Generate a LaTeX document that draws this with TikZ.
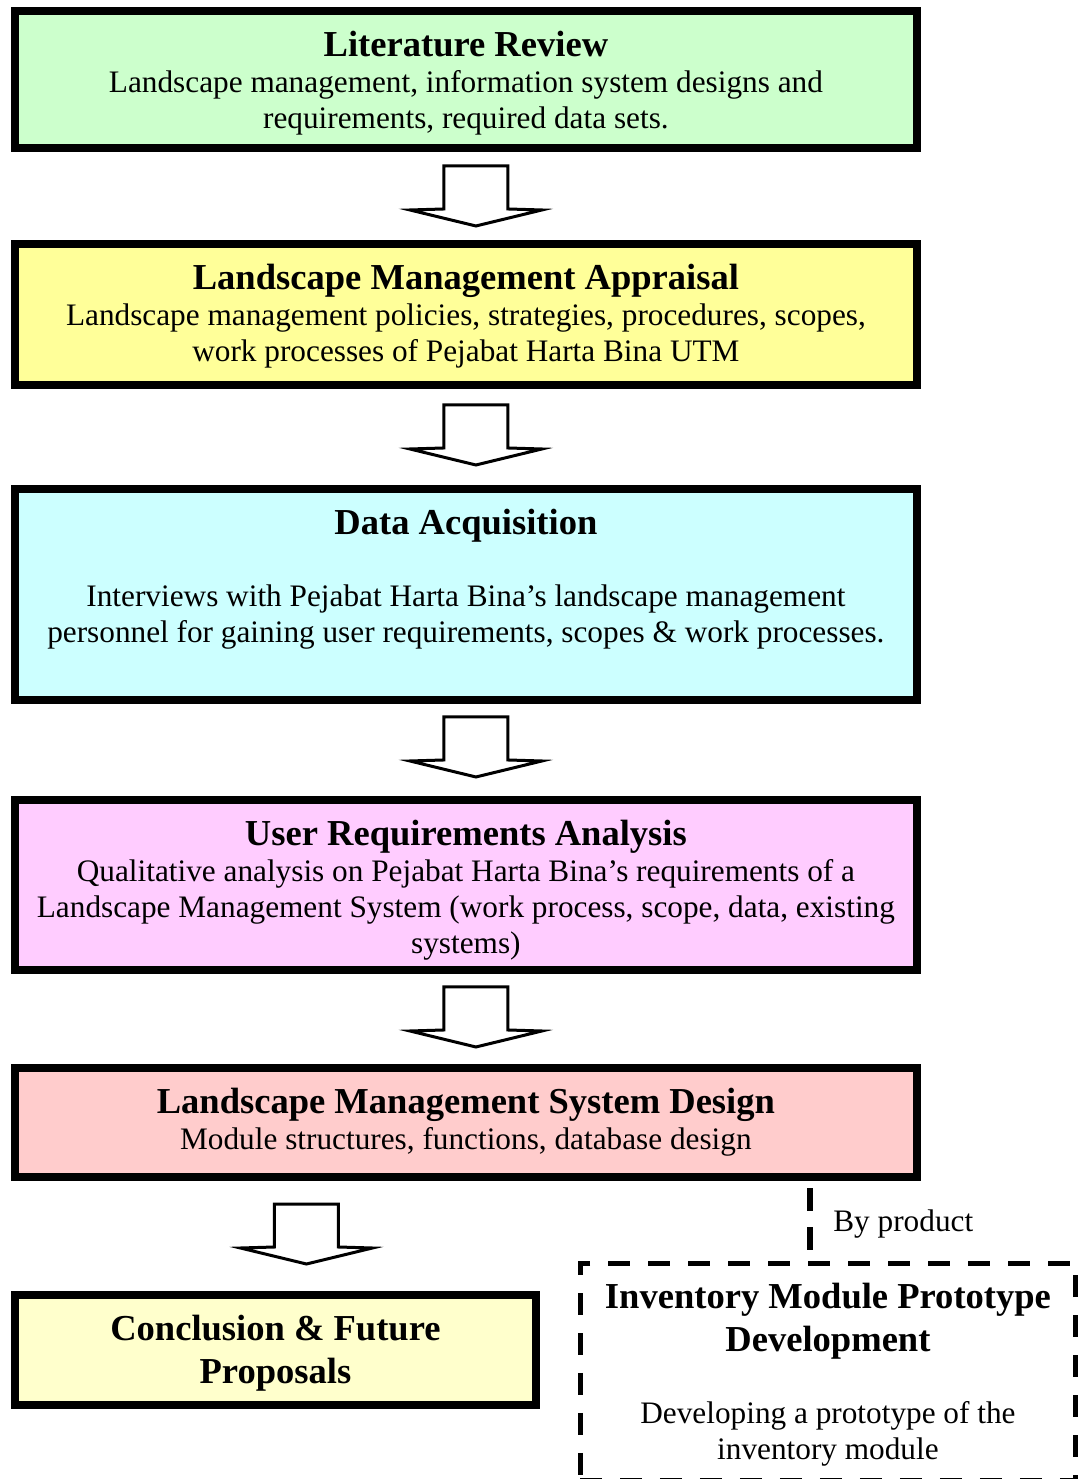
\documentclass[tikz,border=0pt]{standalone}
\usepackage{fontspec}
\setmainfont{Liberation Serif}
\usetikzlibrary{calc}

\definecolor{litgreen}{HTML}{CCFFCC}
\definecolor{appyellow}{HTML}{FFFF99}
\definecolor{datacyan}{HTML}{CCFFFF}
\definecolor{userpink}{HTML}{FFCCFF}
\definecolor{designred}{HTML}{FFCCCC}
\definecolor{conclyellow}{HTML}{FFFFCC}

\newcommand{\titlefont}{\fontsize{20.8}{24}\selectfont\bfseries}
% width, height, title, body
\newcommand{\stagetext}[4]{\parbox[c][#2][t]{#1}{\centering\vspace*{0.41cm}{\titlefont #3\par}#4}}

\begin{document}
\begin{tikzpicture}[x=0.02cm, y=-0.02cm,
        stage/.style={draw, line width=0.16cm, inner sep=0pt, outer sep=0pt,
            anchor=north west, font=\fontsize{17.8}{20.5}\selectfont},
        byproduct/.style={stage, line width=0.1cm, dash pattern=on 0.44cm off 0.36cm},
        byline/.style={line width=0.12cm, dash pattern=on 0.46cm off 0.32cm},
        pics/blockarrow/.style={code={
            \draw[line width=0.06cm, fill=white, line join=miter]
                (-32,-30) -- (32,-30) -- (32,13) -- (66,14) -- (0,30)
                -- (-66,14) -- (-32,13) -- cycle;
        }}]
    \useasboundingbox (0,0) rectangle (1087,1479);

    % Stages
    \node[stage, fill=litgreen] (lit) at (15,11)
        {\stagetext{18.04cm}{2.74cm}{Literature Review}
            {Landscape management, information system designs and\\
             requirements, required data sets.}};
    \node[stage, fill=appyellow] (app) at (15,244)
        {\stagetext{18.04cm}{2.82cm}{Landscape Management Appraisal}
            {Landscape management policies, strategies, procedures, scopes,\\
             work processes of Pejabat Harta Bina UTM}};
    \node[stage, fill=datacyan] (data) at (15,489)
        {\stagetext{18.04cm}{4.22cm}{Data Acquisition}
            {\mbox{}\\
             Interviews with Pejabat Harta Bina's landscape management\\
             personnel for gaining user requirements, scopes \& work processes.}};
    \node[stage, fill=userpink] (user) at (15,800)
        {\stagetext{18.04cm}{3.40cm}{User Requirements Analysis}
            {Qualitative analysis on Pejabat Harta Bina's requirements of a\\
             Landscape Management System (work process, scope, data, existing\\
             systems)}};
    \node[stage, fill=designred] (lms) at (15,1068)
        {\stagetext{18.04cm}{2.18cm}{Landscape Management System Design}
            {Module structures, functions, database design}};
    \node[stage, fill=conclyellow] (concl) at (15,1295)
        {\stagetext{10.42cm}{2.20cm}{Conclusion \& Future\\ Proposals}{}};
    \node[byproduct] (proto) at (580,1263)
        {\stagetext{9.92cm}{4.36cm}{Inventory Module Prototype\\ Development}
            {\mbox{}\\
             Developing a prototype of the\\
             inventory module}};

    % Arrows
    \pic at ($(lit.south)!0.5!(app.north)+(10,0)$) {blockarrow};
    \pic at ($(app.south)!0.5!(data.north)+(10,-2)$) {blockarrow};
    \pic at ($(data.south)!0.5!(user.north)+(10,-3)$) {blockarrow};
    \pic at ($(user.south)!0.5!(lms.north)+(10,-2)$) {blockarrow};
    \pic at ($(lms.south -| concl.north)!0.5!(concl.north)+(31,-2)$) {blockarrow};

    % By product link
    \coordinate (bp) at (810,1188);
    \draw[byline] (bp) -- (bp |- proto.north);
    \node[anchor=west, inner sep=0pt, font=\fontsize{17.8}{20.5}\selectfont]
        (bplabel) at (833,1224) {By product};
\end{tikzpicture}
\end{document}
